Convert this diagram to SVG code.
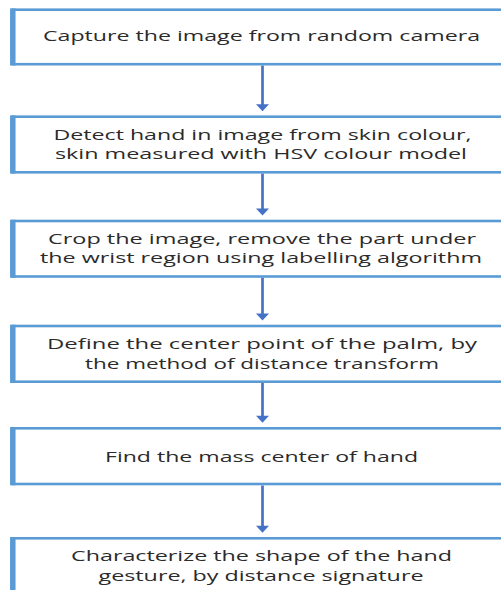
<svg xmlns="http://www.w3.org/2000/svg" width="501" height="590" viewBox="0 0 501 590">
<defs>
<style>
.box{fill:#ffffff;stroke:#5b9bd5;stroke-width:2.6}
.lbar{stroke:#5b9bd5;stroke-width:5.5}
.t{font-family:"Open Sans","Noto Sans","DejaVu Sans",sans-serif;font-size:14.5px;fill:#2b2b2b;text-anchor:middle}
.conn{stroke:#4472c4;stroke-width:2.7;fill:none}
.head{fill:#4472c4}
</style>
</defs>
<rect x="0" y="0" width="501" height="590" fill="#ffffff"/>
<g id="connectors">
<line class="conn" x1="262.5" y1="65.5" x2="262.5" y2="105"/>
<polygon class="head" points="256,104.3 269,104.3 262.5,111.2"/>
<line class="conn" x1="262.5" y1="173.5" x2="262.5" y2="209"/>
<polygon class="head" points="256,208.5 269,208.5 262.5,215.5"/>
<line class="conn" x1="262.5" y1="277.5" x2="262.5" y2="314"/>
<polygon class="head" points="256,313.5 269,313.5 262.5,320.5"/>
<line class="conn" x1="262.5" y1="383" x2="262.5" y2="416"/>
<polygon class="head" points="256,415.8 269,415.8 262.5,422.8"/>
<line class="conn" x1="262.5" y1="485.5" x2="262.5" y2="526"/>
<polygon class="head" points="256,525.8 269,525.8 262.5,532.8"/>
</g>
<g id="node1">
<rect class="box" x="12.8" y="9.7" width="520" height="54.5"/>
<line class="lbar" x1="12.8" y1="8.4" x2="12.8" y2="65.5"/>
<text class="t" x="261.5" y="40.8" textLength="437" lengthAdjust="spacingAndGlyphs">Capture the image from random camera</text>
</g>
<g id="node2">
<rect class="box" x="12.8" y="116.7" width="520" height="55.6"/>
<line class="lbar" x1="12.8" y1="115.4" x2="12.8" y2="173.6"/>
<text class="t" x="262.5" y="140" textLength="418" lengthAdjust="spacingAndGlyphs">Detect hand in image from skin colour,</text>
<text class="t" x="261" y="159" textLength="412" lengthAdjust="spacingAndGlyphs">skin measured with HSV colour model</text>
</g>
<g id="node3">
<rect class="box" x="12.8" y="221" width="520" height="55.5"/>
<line class="lbar" x1="12.8" y1="219.7" x2="12.8" y2="277.8"/>
<text class="t" x="262" y="244" textLength="428" lengthAdjust="spacingAndGlyphs">Crop the image, remove the part under</text>
<text class="t" x="261" y="263" textLength="442" lengthAdjust="spacingAndGlyphs">the wrist region using labelling algorithm</text>
</g>
<g id="node4">
<rect class="box" x="12.8" y="326" width="520" height="55.7"/>
<line class="lbar" x1="12.8" y1="324.7" x2="12.8" y2="383"/>
<text class="t" x="262" y="349" textLength="430" lengthAdjust="spacingAndGlyphs">Define the center point of the palm, by</text>
<text class="t" x="262" y="368.5" textLength="354" lengthAdjust="spacingAndGlyphs">the method of distance transform</text>
</g>
<g id="node5">
<rect class="box" x="12.8" y="428.3" width="520" height="55.7"/>
<line class="lbar" x1="12.8" y1="427" x2="12.8" y2="485.3"/>
<text class="t" x="261.5" y="461.7" textLength="313" lengthAdjust="spacingAndGlyphs">Find the mass center of hand</text>
</g>
<g id="node6">
<rect class="box" x="12.8" y="538.3" width="520" height="60"/>
<line class="lbar" x1="12.8" y1="537" x2="12.8" y2="592"/>
<text class="t" x="261.5" y="561" textLength="381" lengthAdjust="spacingAndGlyphs">Characterize the shape of the hand</text>
<text class="t" x="261" y="580.5" textLength="325" lengthAdjust="spacingAndGlyphs">gesture, by distance signature</text>
</g>
</svg>
